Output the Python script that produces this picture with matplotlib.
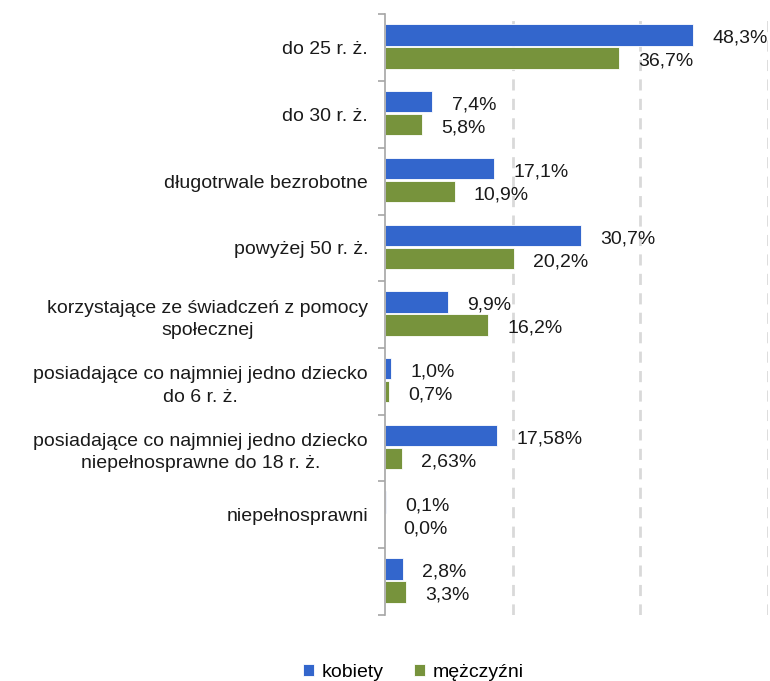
import numpy as np
from matplotlib import pyplot as plt
from matplotlib import transforms

plt.rcParams['font.family'] = ['Liberation Sans', 'DejaVu Sans']

categories = ["do 25 r. ż.",
              "do 30 r. ż.",
              "długotrwale bezrobotne",
              "powyżej 50 r. ż.",
              "korzystające ze świadczeń z pomocy\nspołecznej",
              "posiadające co najmniej jedno dziecko\ndo 6 r. ż.",
              "posiadające co najmniej jedno dziecko\nniepełnosprawne do 18 r. ż.",
              "niepełnosprawni",
              ""]
kobiety = [48.3, 7.4, 17.1, 30.7, 9.9, 1.0, 17.58, 0.1, 2.8]
mezczyzni = [36.7, 5.8, 10.9, 20.2, 16.2, 0.7, 2.63, 0.0, 3.3]
kobiety_lbl = ["48,3%", "7,4%", "17,1%", "30,7%", "9,9%", "1,0%", "17,58%", "0,1%", "2,8%"]
mezczyzni_lbl = ["36,7%", "5,8%", "10,9%", "20,2%", "16,2%", "0,7%", "2,63%", "0,0%", "3,3%"]

BLUE = "#3366CC"
GREEN = "#77933C"
FS = 14

fig = plt.figure(figsize=(7.7, 6.81), dpi=100)
ax = fig.add_axes([0.5, 0.097, 0.497, 0.882])

y = np.arange(len(categories))
h = 0.32
b1 = ax.barh(y - 0.19, kobiety, height=h, color=BLUE, edgecolor="white", linewidth=0.6, label="kobiety")
b2 = ax.barh(y + 0.155, mezczyzni, height=h, color=GREEN, edgecolor="white", linewidth=0.6, label="mężczyźni")

for i in range(len(categories)):
    ax.annotate(kobiety_lbl[i], (kobiety[i], y[i] - 0.19), xytext=(14, -2.5), textcoords="offset points",
                ha="left", va="center", fontsize=FS, color="#1a1a1a")
    ax.annotate(mezczyzni_lbl[i], (mezczyzni[i], y[i] + 0.155), xytext=(13.5, -2.5), textcoords="offset points",
                ha="left", va="center", fontsize=FS, color="#1a1a1a")

ax.set_xlim(0, 60)
ax.set_ylim(len(categories) - 0.5, -0.5)
ax.set_xticks([20, 40, 60])
ax.xaxis.grid(True, linestyle=(0, (4, 3)), color="#D9D9D9", linewidth=2)
ax.set_axisbelow(True)
ax.tick_params(axis="x", length=0, labelbottom=False)

ax.set_yticks(y)
ax.set_yticklabels(categories, fontsize=FS, ha="center", color="#1a1a1a", linespacing=1.4)
ax.set_yticks(np.arange(len(categories) + 1) - 0.5, minor=True)
ax.tick_params(axis="y", which="major", length=0, pad=0)
ax.tick_params(axis="y", which="minor", length=5, width=1.2, color="#A6A6A6")

# place the centred labels so their right edge sits left of the axis
fig.canvas.draw()
renderer = fig.canvas.get_renderer()
right_px = 368
for lab in ax.get_yticklabels():
    w = lab.get_window_extent(renderer).width
    lab.set_x(0)
    lab.set_transform(ax.get_yaxis_transform() + transforms.ScaledTranslation(
        (right_px - 385 - w / 2) / 100, 0, fig.dpi_scale_trans))

for s in ["top", "right", "bottom"]:
    ax.spines[s].set_visible(False)
ax.spines["left"].set_color("#A6A6A6")
ax.spines["left"].set_linewidth(1.2)

fig.legend(handles=[b1, b2], loc="center", bbox_to_anchor=(0.537, 0.013), ncol=2, frameon=False,
           fontsize=FS, handlelength=0.55, handleheight=0.55, handletextpad=0.4, columnspacing=1.6)

fig.savefig("out.png", dpi=100)
